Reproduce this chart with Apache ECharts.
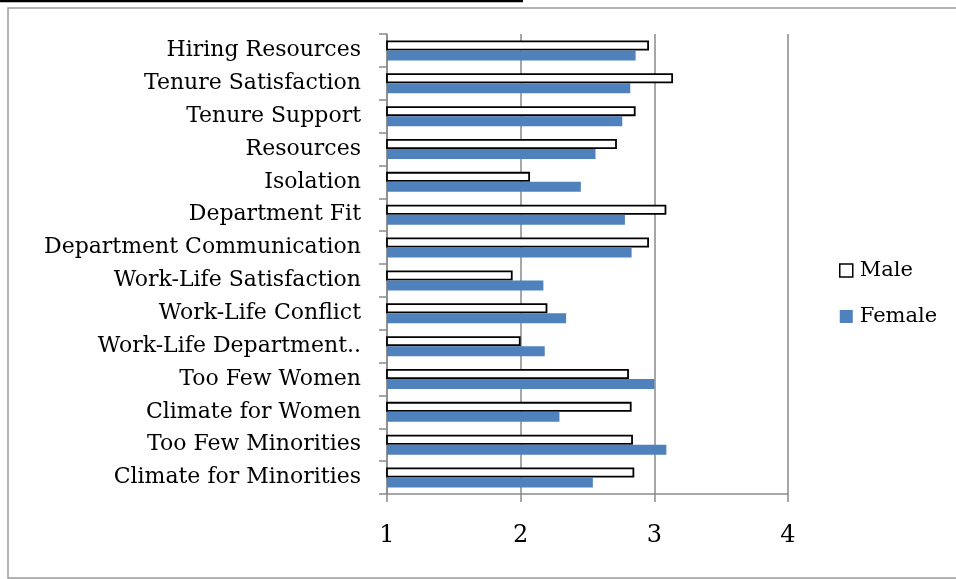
<!DOCTYPE html>
<html>
<head>
<meta charset="utf-8">
<script src="https://cdn.jsdelivr.net/npm/echarts@6/dist/echarts.min.js"></script>
<style>
  html, body { margin: 0; padding: 0; background: #fff; }
  #chart { width: 956px; height: 579px; }
</style>
</head>
<body>
<div id="chart"></div>
<script>
  // categories, top to bottom as in the picture
  var categories = [
    'Hiring Resources',
    'Tenure Satisfaction',
    'Tenure Support',
    'Resources',
    'Isolation',
    'Department Fit',
    'Department Communication',
    'Work-Life Satisfaction',
    'Work-Life Conflict',
    'Work-Life Department..',
    'Too Few Women',
    'Climate for Women',
    'Too Few Minorities',
    'Climate for Minorities'
  ]
  var maleValues = [2.96, 3.14, 2.86, 2.72, 2.07, 3.09, 2.96, 1.94, 2.20, 2.00, 2.81, 2.83, 2.84, 2.85]
  var femaleValues = [2.86, 2.82, 2.76, 2.56, 2.45, 2.78, 2.83, 2.17, 2.34, 2.18, 3.00, 2.29, 3.09, 2.54]
  var xTicks = [1, 2, 3, 4]

  var gray = '#8a8a8a'
  var font = 'DejaVu Serif'

  var mychart = echarts.init(document.getElementById('chart'))
  mychart.setOption({
    animation: false,
    textStyle: { fontFamily: font },
    graphic: [
      {
        type: 'rect',
        shape: { x: 8, y: 8, width: 960, height: 570 },
        style: { fill: 'none', stroke: '#9a9a9a', lineWidth: 1.5 },
        z: -1
      },
      {
        type: 'line',
        shape: { x1: 0, y1: 1, x2: 523, y2: 1 },
        style: { stroke: '#000', lineWidth: 2.5 }
      }
    ],
    legend: {
      orient: 'vertical',
      left: 834,
      top: 255,
      itemWidth: 13,
      itemHeight: 13,
      itemGap: 25,
      textStyle: { fontFamily: font, fontSize: 21, color: '#000', padding: [0, 0, 0, 2] },
      data: [
        { name: 'Male', icon: 'rect', itemStyle: { color: '#fff', borderColor: '#000', borderWidth: 1.5 } },
        { name: 'Female', icon: 'rect' }
      ]
    },
    grid: {
      left: 387,
      right: 168,
      top: 34,
      bottom: 85
    },
    xAxis: {
      type: 'value',
      min: xTicks[0],
      max: xTicks[xTicks.length - 1],
      interval: 1,
      axisLine: { show: true, lineStyle: { color: gray, width: 1.5 } },
      axisTick: { show: true, length: 8, lineStyle: { color: gray, width: 1.5 } },
      axisLabel: { fontFamily: font, fontSize: 24, color: '#000', margin: 30 },
      splitLine: { show: true, lineStyle: { color: gray, width: 1.5 } }
    },
    yAxis: {
      type: 'category',
      inverse: true,
      data: categories,
      axisLine: { show: true, lineStyle: { color: gray, width: 1.5 } },
      axisTick: { show: true, length: 8, lineStyle: { color: gray, width: 1.5 } },
      axisLabel: { fontFamily: font, fontSize: 22, color: '#000', margin: 26, interval: 0 }
    },
    series: [
      {
        name: 'Male',
        type: 'bar',
        barWidth: 10,
        barGap: '0%',
        itemStyle: { color: '#fff', borderColor: '#000', borderWidth: 1.8 },
        data: maleValues
      },
      {
        name: 'Female',
        type: 'bar',
        barWidth: 10,
        barGap: '0%',
        itemStyle: { color: '#4f81bd' },
        data: femaleValues
      }
    ]
  })
</script>
</body>
</html>
